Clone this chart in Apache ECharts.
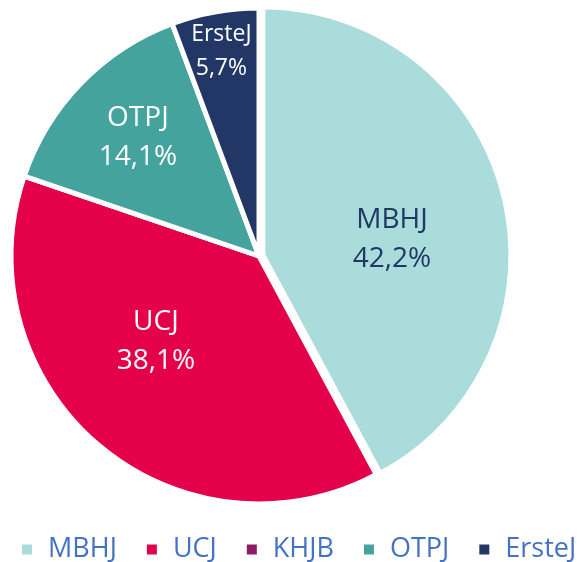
<!DOCTYPE html>
<html>
<head>
<meta charset="utf-8">
<script src="https://cdn.jsdelivr.net/npm/echarts@6/dist/echarts.min.js"></script>
<style>
  html, body { margin: 0; padding: 0; background: #fff; }
  #chart { width: 577px; height: 562px; }
</style>
</head>
<body>
<div id="chart"></div>
<script>
// adatok
const names = ['MBHJ', 'UCJ', 'KHJB', 'OTPJ', 'ErsteJ']
const shares = [42.2, 38.1, 0, 14.1, 5.7]
const colors = ['#A9DCDA', '#E4004B', '#8C1C64', '#44A39D', '#223766']
// címke eltolás (Excel-szerű elhelyezés)
const labelShift = [[6, 15], [-21, -11], [0, 0], [-30, -30], [-15, -80]]

const chart = echarts.init(document.getElementById('chart'))

const seriesData = names.map((n, i) => {
  const lbl = {
    show: shares[i] > 0,
    offset: labelShift[i],
    color: i === 0 ? '#1F3864' : '#ffffff',
    fontSize: n === 'ErsteJ' ? 23 : 28,
    lineHeight: n === 'ErsteJ' ? 34 : 39
  }
  return {
    name: n,
    value: shares[i],
    selected: i === 0,
    itemStyle: { color: colors[i] },
    label: lbl,
    select: { label: lbl, itemStyle: { color: colors[i] } }
  }
})

const option = {
  animation: false,
  legend: {
    bottom: -1,
    left: 20,
    width: 570,
    padding: 0,
    itemWidth: 12,
    itemHeight: 12,
    itemGap: 28,
    icon: 'rect',
    selectedMode: false,
    textStyle: {
      color: '#4472C4',
      fontSize: 27,
      fontFamily: 'Open Sans',
      padding: [0, 0, 0, 10]
    },
    data: names
  },
  series: [{
    type: 'pie',
    center: [259, 256],
    radius: 248,
    startAngle: 90,
    clockwise: true,
    selectedMode: 'single',
    selectedOffset: 4,
    avoidLabelOverlap: false,
    stillShowZeroSum: false,
    itemStyle: {
      borderColor: '#ffffff',
      borderWidth: 5
    },
    label: {
      position: 'inside',
      fontFamily: 'Open Sans',
      formatter: p => p.name + '\n' + p.value.toFixed(1).replace('.', ',') + '%'
    },
    labelLine: { show: false },
    emphasis: { disabled: true },
    data: seriesData
  }]
}

chart.setOption(option)
</script>
</body>
</html>
